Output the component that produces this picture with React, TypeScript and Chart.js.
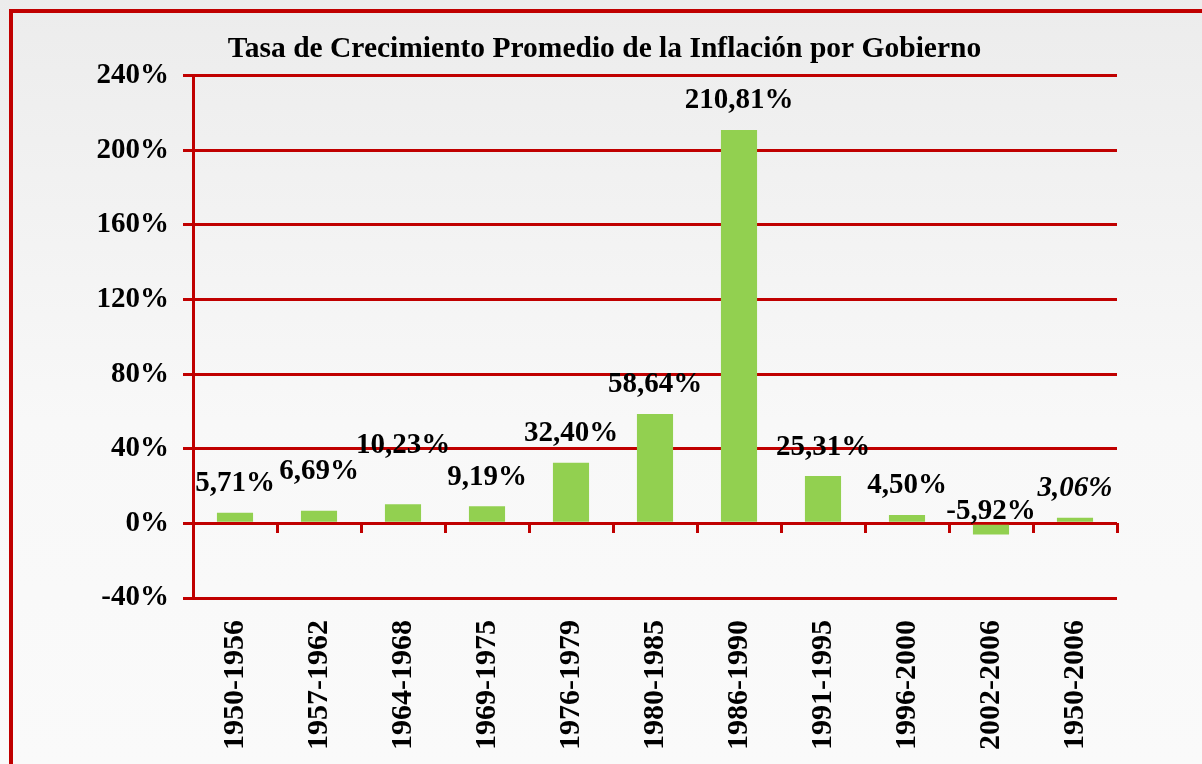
import React, { useEffect, useRef } from "react";
import { Chart, registerables } from "chart.js";

Chart.register(...registerables);

// ---- data ----
const categories = [
  "1950-1956",
  "1957-1962",
  "1964-1968",
  "1969-1975",
  "1976-1979",
  "1980-1985",
  "1986-1990",
  "1991-1995",
  "1996-2000",
  "2002-2006",
  "1950-2006",
];
const inflation = [5.71, 6.69, 10.23, 9.19, 32.4, 58.64, 210.81, 25.31, 4.5, -5.92, 3.06];
const yTicks = [-40, 0, 40, 80, 120, 160, 200, 240];
const chartTitle = "Tasa de Crecimiento Promedio de la Inflación por Gobierno";

// ---- styles ----
const RED = "#c00000";
const GREEN = "#92d050";
const SERIF = "'Liberation Serif', 'Times New Roman', serif";
const LABEL_LIFT = 29;
const LABEL_LIFT_NEG = 13;
const labelNudge = [0, 10, 30, 0, 0, 0, 0, 0, 0, 0, 0];

const formatPct = (v: number) => v.toFixed(2).replace(".", ",") + "%";

const backgroundPlugin = {
  id: "bgFrame",
  beforeDraw(chart: any) {
    const { ctx, width, height } = chart;
    ctx.save();
    const g = ctx.createLinearGradient(0, 0, 0, height);
    g.addColorStop(0, "#ececec");
    g.addColorStop(0.55, "#f8f8f8");
    g.addColorStop(1, "#fafafa");
    ctx.fillStyle = g;
    ctx.fillRect(0, 0, width, height);
    ctx.strokeStyle = RED;
    ctx.lineWidth = 4;
    ctx.strokeRect(11, 11, width + 200, height + 200);
    ctx.restore();
  },
};

const valueLabelPlugin = {
  id: "valueLabels",
  afterDatasetsDraw(chart: any) {
    const ctx = chart.ctx;
    const meta = chart.getDatasetMeta(0);
    ctx.save();
    ctx.fillStyle = "#000";
    ctx.textAlign = "center";
    ctx.textBaseline = "middle";
    meta.data.forEach((bar: any, i: number) => {
      const v = inflation[i];
      const italic = i === categories.length - 1;
      ctx.font = `${italic ? "italic " : ""}bold 29px ${SERIF}`;
      const { x, y, base } = bar.getProps(["x", "y", "base"], true);
      const top = Math.min(y, base);
      const lift = v < 0 ? LABEL_LIFT_NEG : LABEL_LIFT + (labelNudge[i] || 0);
      ctx.fillText(formatPct(v), x, top - lift);
    });
    ctx.restore();
  },
};

export default function App() {
  const canvasRef = useRef<HTMLCanvasElement | null>(null);

  useEffect(() => {
    document.body.style.margin = "0";
    const canvas = canvasRef.current;
    if (!canvas) return;
    const chart = new Chart(canvas, {
      type: "bar",
      data: {
        labels: categories,
        datasets: [
          {
            label: "Inflación",
            data: inflation,
            backgroundColor: GREEN,
            borderWidth: 0,
            categoryPercentage: 1,
            barPercentage: 0.43,
          },
        ],
      },
      options: {
        animation: false,
        responsive: false,
        maintainAspectRatio: false,
        layout: { padding: { left: 92, right: 85, top: 0, bottom: 0 } },
        plugins: {
          legend: { display: false },
          tooltip: { enabled: false },
          title: {
            display: true,
            text: chartTitle,
            color: "#000",
            font: { family: SERIF, size: 29.5, weight: "bold" },
            padding: { top: 32, bottom: 8 },
          },
        },
        scales: {
          x: {
            type: "category",
            offset: true,
            grid: { display: false },
            border: { display: false },
            ticks: {
              autoSkip: false,
              minRotation: 90,
              maxRotation: 90,
              padding: 14,
              color: "#000",
              font: { family: SERIF, size: 30, weight: "bold" },
            },
            afterFit: (s: any) => {
              s.height = 166;
            },
          },
          x2: {
            type: "category",
            labels: categories,
            position: { y: 0 },
            offset: true,
            grid: {
              offset: true,
              drawOnChartArea: false,
              drawTicks: true,
              tickLength: 10,
              color: RED,
              lineWidth: 3,
            },
            border: { display: false },
            ticks: { display: false },
          },
          y: {
            min: -40,
            max: 240,
            afterBuildTicks: (s: any) => {
              s.ticks = yTicks.map((v) => ({ value: v }));
            },
            grid: { color: RED, lineWidth: 3, drawTicks: true, tickLength: 10 },
            border: { display: true, color: RED, width: 3 },
            ticks: {
              padding: 14,
              color: "#000",
              font: { family: SERIF, size: 29, weight: "bold" },
              callback: (v: any) => `${v}%`,
            },
            afterFit: (s: any) => {
              s.width = 101;
            },
          },
        },
      } as any,
      plugins: [backgroundPlugin, valueLabelPlugin],
    });
    return () => chart.destroy();
  }, []);

  return (
    <div style={{ width: 1202, height: 764, overflow: "hidden" }}>
      <canvas ref={canvasRef} width={1202} height={764} style={{ display: "block", width: 1202, height: 764 }} />
    </div>
  );
}
